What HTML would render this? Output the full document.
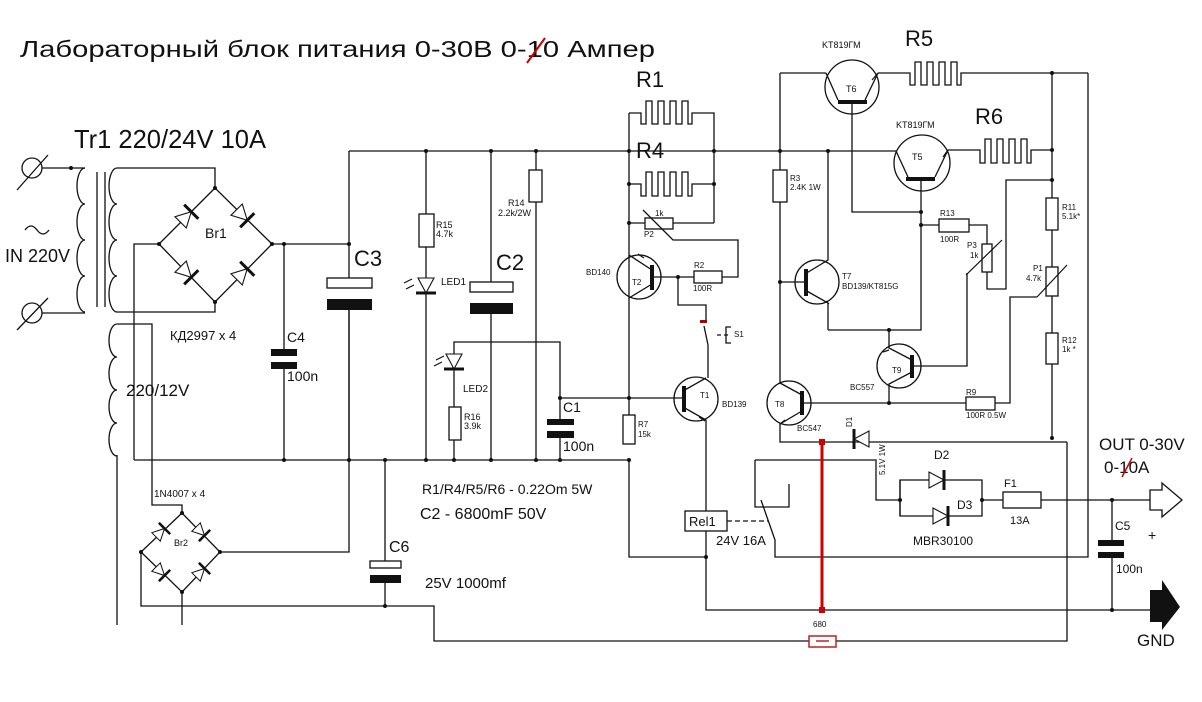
<!DOCTYPE html>
<html><head><meta charset="utf-8"><style>
html,body{margin:0;padding:0;background:#fff}
svg{display:block}
text{font-family:"Liberation Sans",sans-serif;fill:#111}
</style></head><body>
<svg width="1202" height="702" viewBox="0 0 1202 702" xmlns="http://www.w3.org/2000/svg">
<defs>
<g id="dio"><polygon points="-9,-8 -9,8 6,0" fill="#fff" stroke="#111" stroke-width="1.1"/><line x1="6" y1="-10" x2="6" y2="10" stroke="#111" stroke-width="3"/></g>
<g id="dios"><polygon points="-7,-6 -7,6 5,0" fill="#fff" stroke="#111" stroke-width="1"/><line x1="5" y1="-8" x2="5" y2="8" stroke="#111" stroke-width="2.5"/></g>
</defs>
<g stroke="#111" stroke-width="1.3" fill="none">
<circle cx="32" cy="168" r="10"/><line x1="17" y1="190" x2="48" y2="155"/>
<circle cx="32" cy="313" r="10"/><line x1="17" y1="330" x2="48" y2="298"/>
<path d="M42,168 H85"/><path d="M42,313 H85"/>
<path d="M25,230 q6,-8 12,0 q6,8 12,0"/>
<path d="M85,168 a8,18 0 0 0 0,36 a8,18 0 0 0 0,36 a8,18 0 0 0 0,36 a8,18 0 0 0 0,36"/>
<line x1="97" y1="172" x2="97" y2="307"/><line x1="105" y1="172" x2="105" y2="307"/>
<path d="M117,168 a8,18 0 0 0 0,36 a8,18 0 0 0 0,36 a8,18 0 0 0 0,36 a8,18 0 0 0 0,36"/>
<path d="M117,168 H215 V188"/><path d="M117,312 H215 V302"/>
<path d="M215,188 L159,244 L215,302 L272,244 Z"/>
<path d="M159,244 H134 V460"/>
<path d="M272,244 H349"/>
<path d="M117,324 a8,16.5 0 0 0 0,33 a8,16.5 0 0 0 0,33 a8,16.5 0 0 0 0,33 a8,16.5 0 0 0 0,33"/>
<path d="M117,324 H152 V505 H182 V513"/>
<path d="M117,455 V625"/>
<path d="M182,513 L141,552 L182,592 L220,552 Z"/>
<path d="M220,552 H349 V310"/>
<path d="M141,552 V606 H434 V641 H1067 V442"/>
<path d="M182,592 V625"/>
<path d="M385,460 V561 M385,583 V606"/>
<path d="M349,151 H896"/>
<path d="M134,460 H629"/>
<path d="M284,244 V349 M284,369 V460"/>
<path d="M349,151 V278 M349,310 V460"/>
<path d="M426,151 V214 M426,247 V460"/>
<rect x="419" y="214" width="15" height="33" fill="#fff"/>
<path d="M491,151 V282 M491,314 V460"/>
<path d="M536,151 V170 M536,202 V460"/>
<rect x="529" y="170" width="13" height="32" fill="#fff"/>
<path d="M454,460 V440 M454,407 V342 H560 V419 M560,438 V460"/>
<rect x="449" y="407" width="12" height="33" fill="#fff"/>
<path d="M560,398 H683"/>
<path d="M629,113 V420"/>
<path d="M629,113 H641 V124 h5 v-23 h6 v23 h6 v-23 h6 v23 h6 v-23 h6 v23 h6 v-23 h6 v23 h4 v-11 H714 V223"/>
<path d="M629,184 H641 V196 h5 v-24 h6 v24 h6 v-24 h6 v24 h6 v-24 h6 v24 h6 v-24 h6 v24 h4 v-12 H714"/>
<path d="M629,223 H645 M673,223 H714"/>
<rect x="645" y="218" width="28" height="11" fill="#fff"/>
<path d="M643,210 L673,240 H738 V277 H722"/>
<rect x="694" y="271" width="28" height="12" fill="#fff"/>
<path d="M653,277 H694"/>
<circle cx="639" cy="277" r="22"/>
<path d="M629,255 L652,270 M652,284 L629,298"/>
<path d="M678,277 V305 H706 V321 M704,326 L708,345 V378"/>
<path d="M717,335 H730" stroke-dasharray="4,3"/>
<path d="M731,327 h-5 v16 h5"/>
<circle cx="696" cy="399" r="22"/>
<path d="M683,391 L706,378 M683,407 L706,420 V511"/>
<rect x="623" y="415" width="12" height="29" fill="#fff"/>
<path d="M629,460 V557 H706"/>
<rect x="685" y="511" width="42" height="20" fill="#fff"/>
<path d="M706,531 V610 H1150"/>
<path d="M727,521 H768" stroke-dasharray="5,3"/>
<path d="M755,460 V507 H789 V484"/>
<path d="M755,460 H876 V500 H900"/>
<path d="M761,500 L775,540 V557 H1088 V73"/>
<path d="M900,480 H982 V516 H900 Z"/>
<path d="M982,500 H1003 M1041,500 H1150"/>
<rect x="1003" y="492" width="38" height="16" fill="#fff"/>
<path d="M1112,500 V540 M1112,558 V610"/>
<path d="M780,73 H826 M878,73 H910 V85 h5 v-23 h6 v23 h6 v-23 h6 v23 h6 v-23 h6 v23 h6 v-23 h6 v23 h4 v-12 H1088"/>
<path d="M780,73 V170 M780,202 V383"/>
<rect x="773" y="170" width="14" height="32" fill="#fff"/>
<circle cx="852" cy="87" r="27"/>
<path d="M838,100 L826,73 M865,100 L878,73"/>
<path d="M852,102 V212 H921"/>
<circle cx="922" cy="163" r="28"/>
<path d="M896,151 L908,177 M935,177 L948,150 H980 V163 h5 v-24 h6 v24 h6 v-24 h6 v24 h6 v-24 h6 v24 h6 v-24 h6 v24 h4 v-13 H1052"/>
<path d="M921,179 V330 H828"/>
<path d="M921,225 H939 M969,225 H987 V244 M987,272 V289 H1006 V180 H1052"/>
<rect x="939" y="219" width="30" height="13" fill="#fff"/>
<rect x="982" y="244" width="10" height="28" fill="#fff"/>
<path d="M1052,73 V198 M1052,230 V267 M1052,296 V333 M1052,364 V438"/>
<rect x="1046" y="198" width="12" height="32" fill="#fff"/>
<rect x="1046" y="267" width="12" height="29" fill="#fff"/>
<rect x="1046" y="333" width="12" height="31" fill="#fff"/>
<circle cx="817" cy="282" r="22"/>
<path d="M780,282 H805 M805,274 L828,260 V151 M805,290 L828,303 V330"/>
<circle cx="899" cy="366" r="22"/>
<path d="M889,330 V348 L912,360 M912,372 L889,384 V403"/>
<path d="M912,366 H967 V273"/>
<circle cx="789" cy="403" r="22"/>
<path d="M802,403 H966 M995,403 H1010 V297 H1037"/>
<rect x="966" y="397" width="29" height="13" fill="#fff"/>
<path d="M802,395 L780,383 M802,411 L780,424 V442 H1067"/>
<path d="M900,480 V516"/>
</g>
<g fill="#111">
<rect x="271" y="349" width="26" height="7"/><rect x="271" y="362" width="26" height="7"/>
<rect x="327" y="299" width="45" height="11"/>
<rect x="470" y="303" width="43" height="11"/>
<rect x="547" y="419" width="27" height="6"/><rect x="547" y="431" width="27" height="7"/>
<rect x="370" y="575" width="31" height="8"/>
<rect x="1098" y="540" width="26" height="6"/><rect x="1098" y="552" width="26" height="6"/>
<rect x="650" y="265" width="4" height="25"/>
<rect x="682" y="386" width="4" height="26"/>
<rect x="838" y="100" width="29" height="4"/>
<rect x="906" y="177" width="29" height="4"/>
<rect x="804" y="269" width="4" height="27"/>
<rect x="910" y="355" width="4" height="23"/>
<rect x="800" y="391" width="4" height="24"/>
<polygon points="1150,590 1162,590 1162,580 1180,607 1162,630 1162,622 1150,622"/>
</g>
<g fill="#fff" stroke="#111" stroke-width="1.3">
<rect x="327" y="278" width="45" height="10"/>
<rect x="470" y="282" width="43" height="10"/>
<rect x="370" y="561" width="31" height="7"/>
<polygon points="1150,490 1162,490 1162,483 1182,500 1162,517 1162,510 1150,510"/>
</g>
<use href="#dio" transform="translate(187,216) rotate(-45)"/>
<use href="#dio" transform="translate(243,216) rotate(45)"/>
<use href="#dio" transform="translate(187,273) rotate(45)"/>
<use href="#dio" transform="translate(243,273) rotate(-45)"/>
<use href="#dios" transform="translate(161,532) rotate(-45)"/>
<use href="#dios" transform="translate(201,532) rotate(45)"/>
<use href="#dios" transform="translate(161,572) rotate(45)"/>
<use href="#dios" transform="translate(201,572) rotate(-45)"/>
<use href="#dio" transform="translate(426,287) rotate(90)"/>
<use href="#dio" transform="translate(454,363) rotate(90)"/>
<use href="#dio" transform="translate(938,480)"/>
<use href="#dio" transform="translate(942,516)"/>
<use href="#dio" transform="translate(860,439) rotate(180)"/>
<g stroke="#111" stroke-width="1.2" fill="none">
<path d="M404,283 l8,-4 M406,289 l8,-4 M436,360 l8,-4 M434,366 l8,-4"/>
<path d="M644,258 l-6,-4 M699,417 l6,4 M872,80 l6,-7 M943,157 l5,-7 M826,301 l3,3 M883,352 l6,-2 M785,420 l-5,4"/>
<path d="M1037,297 L1067,265 M966,275 L1002,240"/>
</g>
<path d="M822,442 V610" stroke="#c00" stroke-width="3"/>
<rect x="819" y="439" width="6" height="6" fill="#c00"/><rect x="819" y="607" width="6" height="6" fill="#c00"/>
<rect x="809" y="636" width="27" height="11" fill="#fff" stroke="#b22" stroke-width="1.5"/>
<line x1="816" y1="641" x2="829" y2="641" stroke="#b22" stroke-width="1.5"/>
<rect x="700" y="320" width="7" height="3" fill="#a00"/>
<g fill="#111">
<circle cx="284" cy="244" r="2"/><circle cx="349" cy="244" r="2"/><circle cx="426" cy="151" r="2"/><circle cx="491" cy="151" r="2"/><circle cx="536" cy="151" r="2"/>
<circle cx="284" cy="460" r="2"/><circle cx="349" cy="460" r="2"/><circle cx="385" cy="460" r="2"/><circle cx="426" cy="460" r="2"/><circle cx="454" cy="460" r="2"/><circle cx="491" cy="460" r="2"/><circle cx="536" cy="460" r="2"/><circle cx="560" cy="460" r="2"/><circle cx="629" cy="460" r="2"/><circle cx="560" cy="398" r="2"/>
<circle cx="629" cy="151" r="2"/><circle cx="629" cy="184" r="2"/><circle cx="714" cy="184" r="2"/><circle cx="714" cy="151" r="2"/><circle cx="629" cy="223" r="2"/><circle cx="678" cy="277" r="2"/><circle cx="629" cy="398" r="2"/>
<circle cx="780" cy="151" r="2"/><circle cx="828" cy="151" r="2"/><circle cx="780" cy="282" r="2"/><circle cx="921" cy="212" r="2"/><circle cx="921" cy="225" r="2"/><circle cx="889" cy="330" r="2"/><circle cx="889" cy="403" r="2"/>
<circle cx="1052" cy="73" r="2"/><circle cx="1052" cy="150" r="2"/><circle cx="1052" cy="180" r="2"/><circle cx="1052" cy="438" r="2"/>
<circle cx="706" cy="557" r="2"/><circle cx="900" cy="500" r="2"/><circle cx="982" cy="500" r="2"/><circle cx="1112" cy="500" r="2"/><circle cx="1112" cy="610" r="2"/><circle cx="385" cy="606" r="2"/><circle cx="182" cy="513" r="2"/><circle cx="141" cy="552" r="2"/><circle cx="220" cy="552" r="2"/><circle cx="182" cy="592" r="2"/><circle cx="215" cy="188" r="2"/><circle cx="215" cy="302" r="2"/><circle cx="159" cy="244" r="2"/><circle cx="272" cy="244" r="2"/><circle cx="71" cy="168" r="2"/>
</g>
<text x="20" y="57" font-size="23" textLength="635" lengthAdjust="spacingAndGlyphs">Лабораторный блок питания 0-30В 0-10 Ампер</text>
<line x1="527" y1="63" x2="545" y2="38" stroke="#c00" stroke-width="2"/>
<text x="74" y="148" font-size="26" textLength="192" lengthAdjust="spacingAndGlyphs">Tr1  220/24V 10A</text>
<text x="5" y="262" font-size="18">IN 220V</text>
<text x="205" y="238" font-size="14">Br1</text>
<text x="170" y="340" font-size="13">КД2997 х 4</text>
<text x="126" y="396" font-size="17">220/12V</text>
<text x="154" y="497" font-size="10">1N4007 x 4</text>
<text x="174" y="546" font-size="9">Br2</text>
<text x="287" y="342" font-size="14">C4</text>
<text x="287" y="381" font-size="14">100n</text>
<text x="354" y="266" font-size="22">C3</text>
<text x="496" y="270" font-size="22">C2</text>
<text x="436" y="228" font-size="9">R15</text><text x="436" y="237" font-size="9">4.7k</text>
<text x="441" y="285" font-size="10">LED1</text>
<text x="463" y="392" font-size="10">LED2</text>
<text x="464" y="420" font-size="9">R16</text><text x="464" y="429" font-size="9">3.9k</text>
<text x="508" y="206" font-size="9">R14</text><text x="498" y="216" font-size="9">2.2k/2W</text>
<text x="563" y="412" font-size="14">C1</text><text x="563" y="451" font-size="14">100n</text>
<text x="389" y="552" font-size="16">C6</text>
<text x="425" y="588" font-size="15">25V 1000mf</text>
<text x="422" y="494" font-size="14">R1/R4/R5/R6 - 0.22Om 5W</text>
<text x="420" y="519" font-size="16">C2 - 6800mF 50V</text>
<text x="636" y="87" font-size="22">R1</text>
<text x="636" y="158" font-size="22">R4</text>
<text x="655" y="216" font-size="8">1k</text><text x="644" y="237" font-size="8">P2</text>
<text x="586" y="275" font-size="8">BD140</text><text x="632" y="285" font-size="8">T2</text>
<text x="694" y="268" font-size="8">R2</text><text x="693" y="291" font-size="8">100R</text>
<text x="734" y="337" font-size="8">S1</text>
<text x="700" y="398" font-size="8">T1</text><text x="722" y="407" font-size="8">BD139</text>
<text x="638" y="427" font-size="8">R7</text><text x="638" y="437" font-size="8">15k</text>
<text x="689" y="526" font-size="13">Rel1</text>
<text x="716" y="545" font-size="13">24V 16A</text>
<text x="822" y="48" font-size="9">KT819ГМ</text>
<text x="905" y="46" font-size="22">R5</text>
<text x="846" y="92" font-size="9">T6</text>
<text x="896" y="128" font-size="9">KT819ГМ</text>
<text x="975" y="124" font-size="22">R6</text>
<text x="912" y="160" font-size="9">T5</text>
<text x="790" y="181" font-size="8">R3</text><text x="790" y="190" font-size="8">2.4K 1W</text>
<text x="842" y="279" font-size="8">T7</text><text x="842" y="289" font-size="8">BD139/KT815G</text>
<text x="940" y="216" font-size="8">R13</text><text x="940" y="242" font-size="8">100R</text>
<text x="967" y="248" font-size="8">P3</text><text x="970" y="258" font-size="8">1k</text>
<text x="1062" y="210" font-size="8">R11</text><text x="1062" y="219" font-size="8">5.1k*</text>
<text x="1033" y="271" font-size="8">P1</text><text x="1026" y="281" font-size="8">4.7k</text>
<text x="1062" y="343" font-size="8">R12</text><text x="1062" y="352" font-size="8">1k *</text>
<text x="892" y="373" font-size="8">T9</text><text x="850" y="390" font-size="8">BC557</text>
<text x="775" y="407" font-size="8">T8</text><text x="797" y="431" font-size="8">BC547</text>
<text x="966" y="395" font-size="8">R9</text><text x="966" y="418" font-size="8">100R 0.5W</text>
<text x="0" y="0" font-size="8" transform="translate(852,427) rotate(-90)">D1</text>
<text x="0" y="0" font-size="8" transform="translate(885,475) rotate(-90)">5.1V 1W</text>
<text x="934" y="459" font-size="12">D2</text><text x="957" y="509" font-size="12">D3</text>
<text x="913" y="545" font-size="12">MBR30100</text>
<text x="1004" y="487" font-size="11">F1</text><text x="1010" y="524" font-size="11">13A</text>
<text x="1115" y="530" font-size="12">C5</text><text x="1116" y="573" font-size="12">100n</text>
<text x="1148" y="540" font-size="14">+</text>
<text x="1099" y="450" font-size="17">OUT 0-30V</text>
<text x="1104" y="473" font-size="17">0-10A</text>
<line x1="1122" y1="477" x2="1132" y2="458" stroke="#c00" stroke-width="1.5"/>
<text x="1137" y="646" font-size="17">GND</text>
<text x="813" y="627" font-size="8">680</text>
</svg>
</body></html>
